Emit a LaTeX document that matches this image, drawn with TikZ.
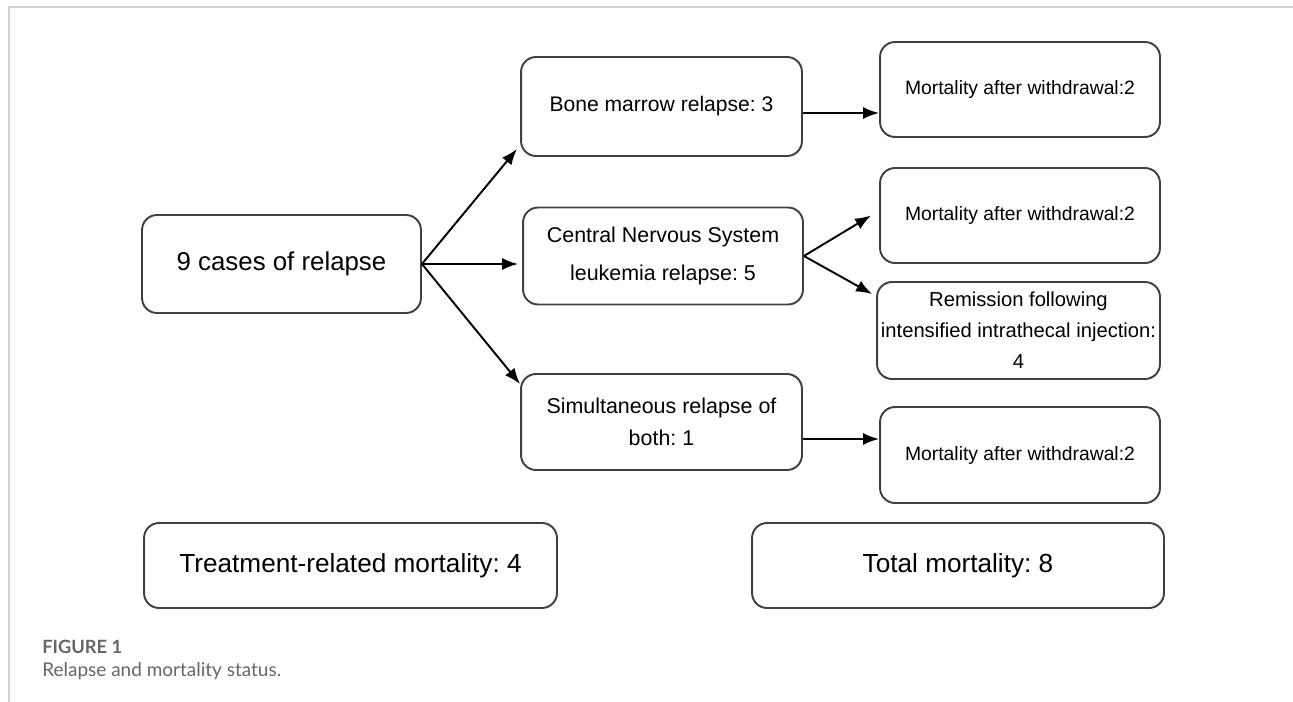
\documentclass[tikz,border=0pt]{standalone}
\usepackage{fontspec}
\setmainfont{Liberation Sans}
\newfontfamily\capfont{Lato}
\usetikzlibrary{arrows.meta,calc}
\frenchspacing

\definecolor{boxline}{HTML}{404040}
\definecolor{framegray}{HTML}{D0D0D0}
\definecolor{capgray}{HTML}{666666}

\begin{document}
\begin{tikzpicture}[x=0.02cm,y=-0.02cm,
    box/.style={draw=boxline,line width=1.1pt,rounded corners=0.3cm,
      align=center,inner sep=0pt,text=black},
    arr/.style={-{Latex[length=0.32cm,width=0.24cm]},line width=1.1pt}]
      \useasboundingbox (0,0) rectangle (1293,702);
      % frame
      \draw[framegray,line width=0.8pt] (1293,7) -- (9,7) -- (9,702);
      % boxes
      \node[box,minimum width=5.58cm,minimum height=1.96cm,font=\fontsize{14.7}{18}\selectfont]
        (cases) at (281.5,264) {9 cases of relapse};
      \node[box,minimum width=5.62cm,minimum height=1.98cm,font=\fontsize{12}{15}\selectfont]
        (bone) at (661.5,106.5) {Bone marrow relapse: 3};
      \node[box,minimum width=5.6cm,minimum height=1.94cm,font=\fontsize{12.2}{21.5}\selectfont]
        (cns) at (663,256) {Central Nervous System\\leukemia relapse: 5};
      \node[box,minimum width=5.62cm,minimum height=1.92cm,font=\fontsize{12.2}{18}\selectfont]
        (both) at (661.5,422) {Simultaneous relapse of\\both: 1};
      \node[box,minimum width=5.6cm,minimum height=1.9cm,font=\fontsize{11}{14}\selectfont]
        (mortA) at (1020,89.5) {Mortality after withdrawal:2};
      \node[box,minimum width=5.6cm,minimum height=1.9cm,font=\fontsize{11}{14}\selectfont]
        (mortB) at (1020,215.5) {Mortality after withdrawal:2};
      \node[box,minimum width=5.66cm,minimum height=1.94cm,font=\fontsize{11.5}{17.6}\selectfont]
        (remis) at (1018.5,330.5) {Remission following\\intensified intrathecal injection:\\4};
      \node[box,minimum width=5.6cm,minimum height=1.92cm,font=\fontsize{11}{14}\selectfont]
        (mortC) at (1020,455) {Mortality after withdrawal:2};
      \node[box,minimum width=8.26cm,minimum height=1.7cm,font=\fontsize{14.9}{18}\selectfont]
        (treat) at (350.5,565.5) {Treatment-related mortality: 4};
      \node[box,minimum width=8.24cm,minimum height=1.7cm,font=\fontsize{14.9}{18}\selectfont]
        (total) at (958,565.5) {Total mortality: 8};
      % arrows
      \draw[arr] (cases.east) -- ($(bone.south west)+(-3,-8)$);
      \draw[arr] (cases.east) -- ($(cases.east -| cns.west)+(-4,0)$);
      \draw[arr] (cases.east) -- ($(both.north west)+(0,11)$);
      \draw[arr] (bone.east |- 0,113) -- (mortA.west |- 0,113);
      \draw[arr] (cns.east) -- ($(mortB.west)+(-8,0)$);
      \draw[arr] (cns.east) -- ($(remis.north west)+(-4,13)$);
      \draw[arr] (both.east |- 0,439) -- (mortC.west |- 0,439);
      % caption
      \node[anchor=base west,inner sep=0pt,text=capgray,font=\capfont\bfseries\fontsize{10.4}{12}\selectfont]
        (figno) at (42,653) {FIGURE 1};
      \node[anchor=base west,inner sep=0pt,text=capgray,font=\capfont\fontsize{10.8}{12}\selectfont]
        (figcap) at (42,676) {Relapse and mortality status.};
    \end{tikzpicture}
\end{document}
